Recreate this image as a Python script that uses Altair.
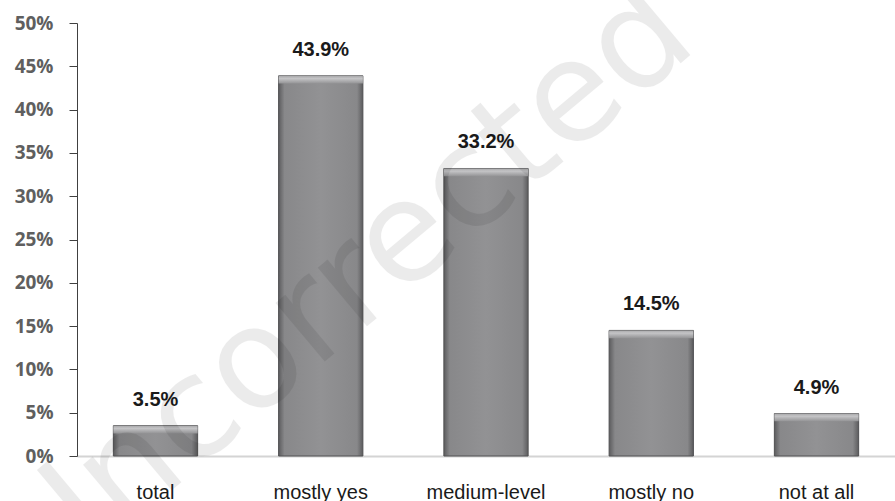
import altair as alt
import pandas as pd

categories = ["total", "mostly yes", "medium-level", "mostly no", "not at all"]
values = [3.5, 43.9, 33.2, 14.5, 4.9]
y_ticks = [0, 5, 10, 15, 20, 25, 30, 35, 40, 45, 50]
watermark = "Uncorrected"

df = pd.DataFrame({"category": categories, "value": values})

x_enc = alt.X(
    "category:N",
    sort=categories,
    scale=alt.Scale(paddingInner=0.49, paddingOuter=0.22),
    axis=alt.Axis(
        title=None,
        labelAngle=0,
        ticks=False,
        tickSize=0,
        labelPadding=26,
        labelFont="Liberation Sans",
        labelFontSize=20,
        labelColor="#1a1a1a",
        labelBaseline="top",
        domainColor="#d4d4d4",
        domainWidth=2,
        grid=False,
    ),
)

y_enc = alt.Y(
    "value:Q",
    scale=alt.Scale(domain=[0, 50], nice=False),
    axis=alt.Axis(
        title=None,
        values=y_ticks,
        labelExpr="datum.value + '%'",
        labelFont="Open Sans",
        labelFontWeight="bold",
        labelFontSize=19,
        labelColor="#5f5f5f",
        labelPadding=16,
        tickSize=8,
        tickColor="#404040",
        domainColor="#404040",
        grid=False,
    ),
)

side_grad = alt.Gradient(
    gradient="linear",
    stops=[
        alt.GradientStop(color="#5c5c5e", offset=0),
        alt.GradientStop(color="#88888a", offset=0.07),
        alt.GradientStop(color="#929294", offset=0.5),
        alt.GradientStop(color="#88888a", offset=0.93),
        alt.GradientStop(color="#5c5c5e", offset=1),
    ],
    x1=0, x2=1, y1=0, y2=0,
)

top_grad = alt.Gradient(
    gradient="linear",
    stops=[
        alt.GradientStop(color="#a8a8aa", offset=0),
        alt.GradientStop(color="#c4c4c6", offset=0.35),
        alt.GradientStop(color="#939395", offset=1),
    ],
    x1=0, x2=0, y1=0, y2=1,
)

bars = alt.Chart(df).mark_bar(
    color=side_grad, stroke="#505052", strokeWidth=1
).encode(x=x_enc, y=y_enc)

bevel = (
    alt.Chart(df)
    .transform_calculate(v2="datum.value - 0.9")
    .mark_bar(color=top_grad)
    .encode(x=x_enc, y=alt.Y("value:Q"), y2="v2:Q")
)

labels = (
    alt.Chart(df)
    .transform_calculate(label="format(datum.value, '.1f') + '%'")
    .mark_text(
        font="Liberation Sans",
        fontWeight="bold",
        fontSize=20,
        color="#1a1a1a",
        baseline="alphabetic",
        dy=-20,
    )
    .encode(x=x_enc, y=alt.Y("value:Q"), text="label:N")
)

wm = (
    alt.Chart(pd.DataFrame({"t": [watermark]}))
    .mark_text(
        font="DejaVu Sans",
        fontWeight="normal",
        fontSize=140,
        color="#000000",
        opacity=0.075,
        angle=320,
        align="center",
        baseline="alphabetic",
    )
    .encode(x=alt.value(295), y=alt.value(299), text="t:N")
)

chart = (
    alt.layer(bars, bevel, labels, wm)
    .properties(
        width=818,
        height=433,
        autosize=alt.AutoSizeParams(type="none"),
        padding={"left": 77, "top": 23, "right": 0, "bottom": 45},
    )
    .configure_view(stroke=None)
)

chart.save("out.html", embed_options={"renderer": "svg", "actions": False})
